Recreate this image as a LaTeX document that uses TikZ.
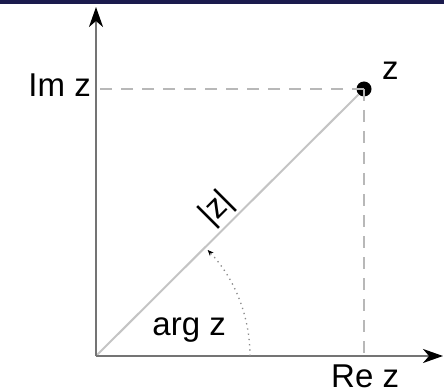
\documentclass[tikz,border=0pt]{standalone}
\usepackage{fontspec}
\setmainfont{Liberation Sans}
\usetikzlibrary{arrows.meta}
\definecolor{band}{HTML}{1B1B4D}
\definecolor{axisgray}{HTML}{747474}
\definecolor{linegray}{HTML}{C4C4C4}
\definecolor{dashgray}{HTML}{B8B8B8}
\definecolor{dotgray}{HTML}{8A8A8A}
\begin{document}
\begin{tikzpicture}[x=1pt,y=-1pt,
  lbl/.style={font=\fontsize{33}{40}\selectfont, inner sep=0pt},
  axisline/.style={axisgray, line width=2pt, -{Stealth[length=20pt, width=14pt, inset=6pt, black]}},
  guide/.style={dashgray, line width=1.6pt, dash pattern=on 12pt off 9pt},
  radius line/.style={linegray, line width=2pt},
  argarc/.style={dotgray, line width=1.3pt, dash pattern=on 1.3pt off 4pt, -{Stealth[length=6pt, width=5pt, black]}}]
\useasboundingbox (0,0) rectangle (444,390);
\fill[band] (0,0) rectangle (444,4);
\coordinate (O) at (96,356);
\coordinate (Ytip) at (96,7);
\coordinate (Xtip) at (443,356);
\coordinate (zy) at (96,89);
\coordinate (zx) at (364,356);
\coordinate (arcstart) at (250,356);
\node[circle, fill=black, minimum size=15pt, inner sep=0pt] (z) at (364,89) {};
\draw[guide] (z.center) -- (zy);
\draw[guide] (z.center) -- (zx);
\draw[radius line] (O) -- (z);
\draw[axisline] (O) -- (Ytip);
\draw[axisline] (O) -- (Xtip);
\draw[argarc] (arcstart) arc[start angle=0, end angle=-43.5, radius=154];
\node[lbl, anchor=base east] (imz) at (91,97) {Im z};
\node[lbl, anchor=base west] (zlbl) at (382,80) {z};
\node[lbl, anchor=base west, text depth=0pt] (rez) at (331,387) {Re z};
\node[lbl, anchor=base east] (argz) at (226,335) {arg z};
\node[lbl, rotate=45] (absz) at (217,209) {|z|};
\end{tikzpicture}
\end{document}
